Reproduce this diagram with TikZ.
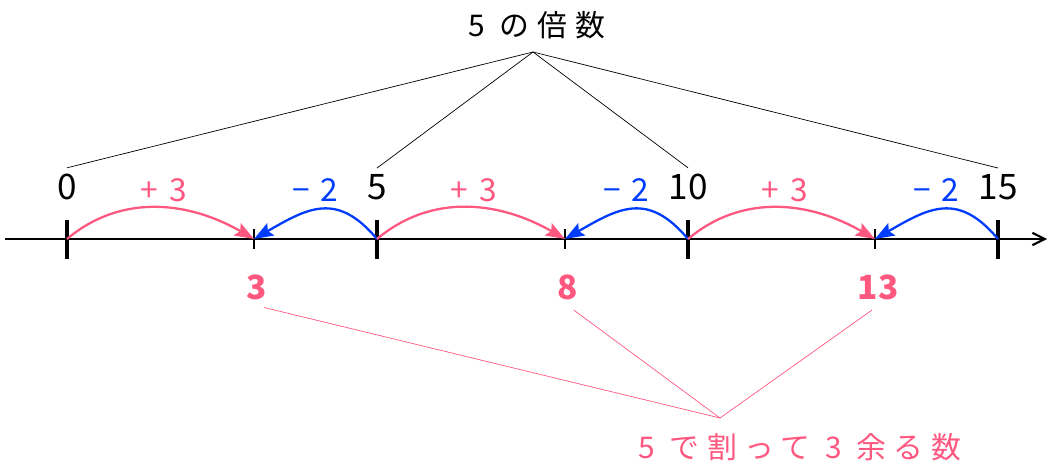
\documentclass[tikz,border=0pt]{standalone}
\usepackage{fontspec}
\setmainfont{Noto Sans CJK JP}
\usetikzlibrary{arrows.meta,calc}
\definecolor{pinkc}{RGB}{255,88,128}
\definecolor{bluec}{RGB}{0,60,255}

\begin{document}
\begin{tikzpicture}[x=.02cm, y=-.02cm, every node/.style={font=\fontsize{20}{22}\selectfont},
  jtext/.style={font=\fontsize{17}{18}\selectfont\addfontfeature{LetterSpace=26}},
  jump/.style={font=\fontsize{18}{20}\selectfont\addfontfeature{LetterSpace=15}}]
  \useasboundingbox (0,0) rectangle (1049,466);
  \coordinate (L) at (5,239); \coordinate (R) at (1047,239);
  \coordinate (top) at (533,52); \coordinate (bot) at (720,418);
  \draw[line width=1.2pt, -{Straight Barb[length=7pt,width=7pt]}] (L)--(R);
  \node[jtext] (head) at (537,25) {5 の倍数};
  \node[jtext, pinkc] (rem) at (800,447) {5 で割って 3 余る数};
  % multiples of 5
  \foreach \n/\x in {0/67,5/377,10/688,15/998} {
    \coordinate (a\n) at (\x,239);
    \draw[line width=2.3pt] (\x,220)--(\x,259);
    \node (n\n) at (\x,187) {\n};
    \draw[thin] (top)--(n\n.north);
  }
  % remainder 3
  \foreach \n/\x in {3/254,8/565,13/875} {
    \coordinate (b\n) at (\x,239);
    \draw[line width=1pt] (\x,229)--(\x,249);
    \node[pinkc, font=\fontsize{19}{20}\selectfont\bfseries] (r\n) at (\x+3,287) {\n};
    \draw[pinkc, thin, shorten <=4pt] (r\n.south)--(bot);
  }
  % jumps
  \foreach \s/\e/\t in {0/3/5,5/8/10,10/13/15} {
    \draw[pinkc, line width=1.3pt, -{Stealth[length=11pt,width=8pt,inset=2pt]}]
      (a\s) to[out=40, in=150] (b\e);
    \draw[bluec, line width=1.3pt, -{Stealth[length=11pt,width=8pt,inset=2pt]}]
      (a\t) to[out=130, in=30, looseness=1.3] (b\e);
    \node[jump, pinkc] (p\e) at ($(a\s)!.5!(b\e)+(3,-49)$) {+ 3};
    \node[jump, bluec] (m\e) at ($(b\e)!.5!(a\t)+(0,-49)$) {−\hspace{6pt}2};
  }
\end{tikzpicture}
\end{document}
